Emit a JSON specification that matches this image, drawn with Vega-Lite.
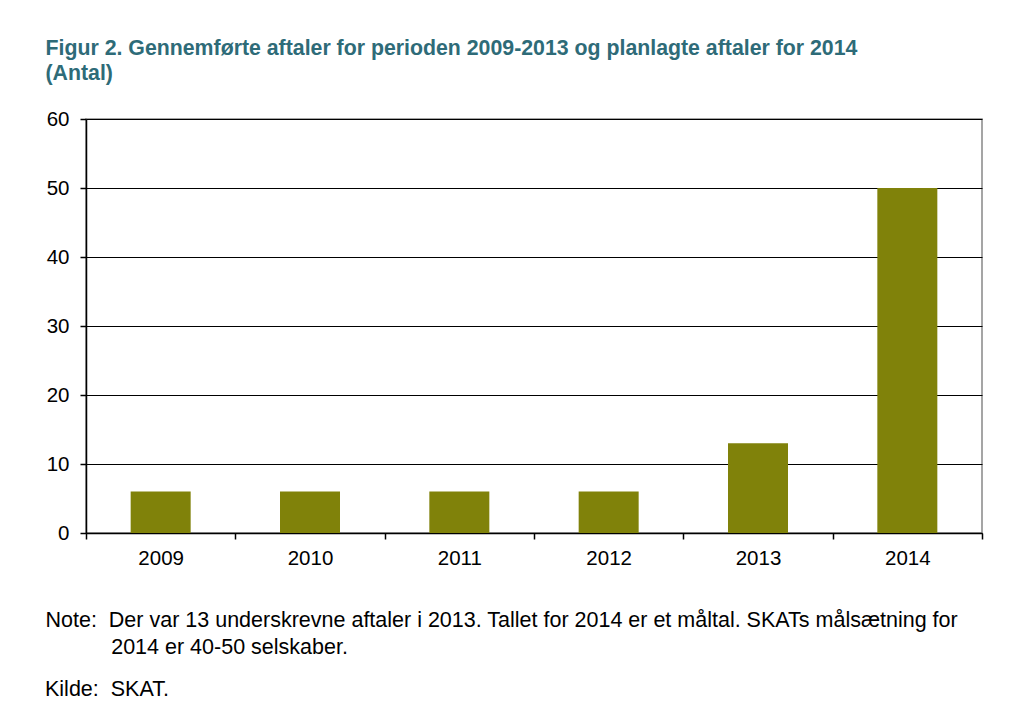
{
  "$schema": "https://vega.github.io/schema/vega-lite/v6.json",
  "autosize": {"type": "none"},
  "width": 896,
  "height": 414,
  "padding": {"left": 86, "top": 119, "right": 29, "bottom": 180},
  "background": "white",
  "title": {
    "text": "Kilde:\u00a0\u00a0SKAT.",
    "orient": "bottom",
    "anchor": "start",
    "frame": "group",
    "dx": -41,
    "offset": 21,
    "font": "Liberation Sans",
    "fontSize": 21.5,
    "fontWeight": "normal",
    "color": "#000000"
  },
  "data": {
    "values": [
      {"year": "2009", "antal": 6},
      {"year": "2010", "antal": 6},
      {"year": "2011", "antal": 6},
      {"year": "2012", "antal": 6},
      {"year": "2013", "antal": 13},
      {"year": "2014", "antal": 50}
    ]
  },
  "mark": {"type": "bar", "color": "#80820A", "width": 60},
  "encoding": {
    "x": {
      "field": "year",
      "type": "ordinal",
      "scale": {"paddingInner": 0, "paddingOuter": 0},
      "axis": {
        "labelAngle": 0,
        "labelFont": "Liberation Sans",
        "labelFontSize": 20.5,
        "labelColor": "#000000",
        "labelPadding": 9,
        "domainColor": "#000000",
        "domainWidth": 1.5,
        "tickColor": "#000000",
        "tickSize": 6,
        "tickWidth": 1.5,
        "tickBand": "extent",
        "title": ["Note:\u00a0\u00a0Der var 13 underskrevne aftaler i 2013. Tallet for 2014 er et måltal. SKATs målsætning for", "\u200b\u00a0\u00a0\u00a0\u00a0\u00a0\u00a0\u00a0\u00a0\u00a0\u00a0\u00a02014 er 40-50 selskaber."],
        "titleFont": "Liberation Sans",
        "titleFontSize": 21.5,
        "titleFontWeight": "normal",
        "titleColor": "#000000",
        "titleAnchor": "start",
        "titleAlign": "left",
        "titleBaseline": "middle",
        "titleX": -41,
        "titleY": 87,
        "titleLineHeight": 27.5
      }
    },
    "y": {
      "field": "antal",
      "type": "quantitative",
      "scale": {"domain": [0, 60]},
      "axis": {
        "values": [0, 10, 20, 30, 40, 50, 60],
        "labelFont": "Liberation Sans",
        "labelFontSize": 20.5,
        "labelColor": "#000000",
        "labelPadding": 11,
        "domainColor": "#000000",
        "domainWidth": 1.5,
        "tickColor": "#000000",
        "tickSize": 6,
        "tickWidth": 1.5,
        "grid": true,
        "gridColor": "#000000",
        "gridWidth": 1.2,
        "title": ["Figur 2. Gennemførte aftaler for perioden 2009-2013 og planlagte aftaler for 2014", "(Antal)"],
        "titleAngle": 0,
        "titleFont": "Liberation Sans",
        "titleFontSize": 21.3,
        "titleFontWeight": "bold",
        "titleColor": "#2E6B78",
        "titleAlign": "left",
        "titleBaseline": "middle",
        "titleX": -41,
        "titleY": -71,
        "titleLineHeight": 25
      }
    }
  },
  "config": {
    "view": {"stroke": "#888888", "strokeWidth": 1.5}
  }
}
